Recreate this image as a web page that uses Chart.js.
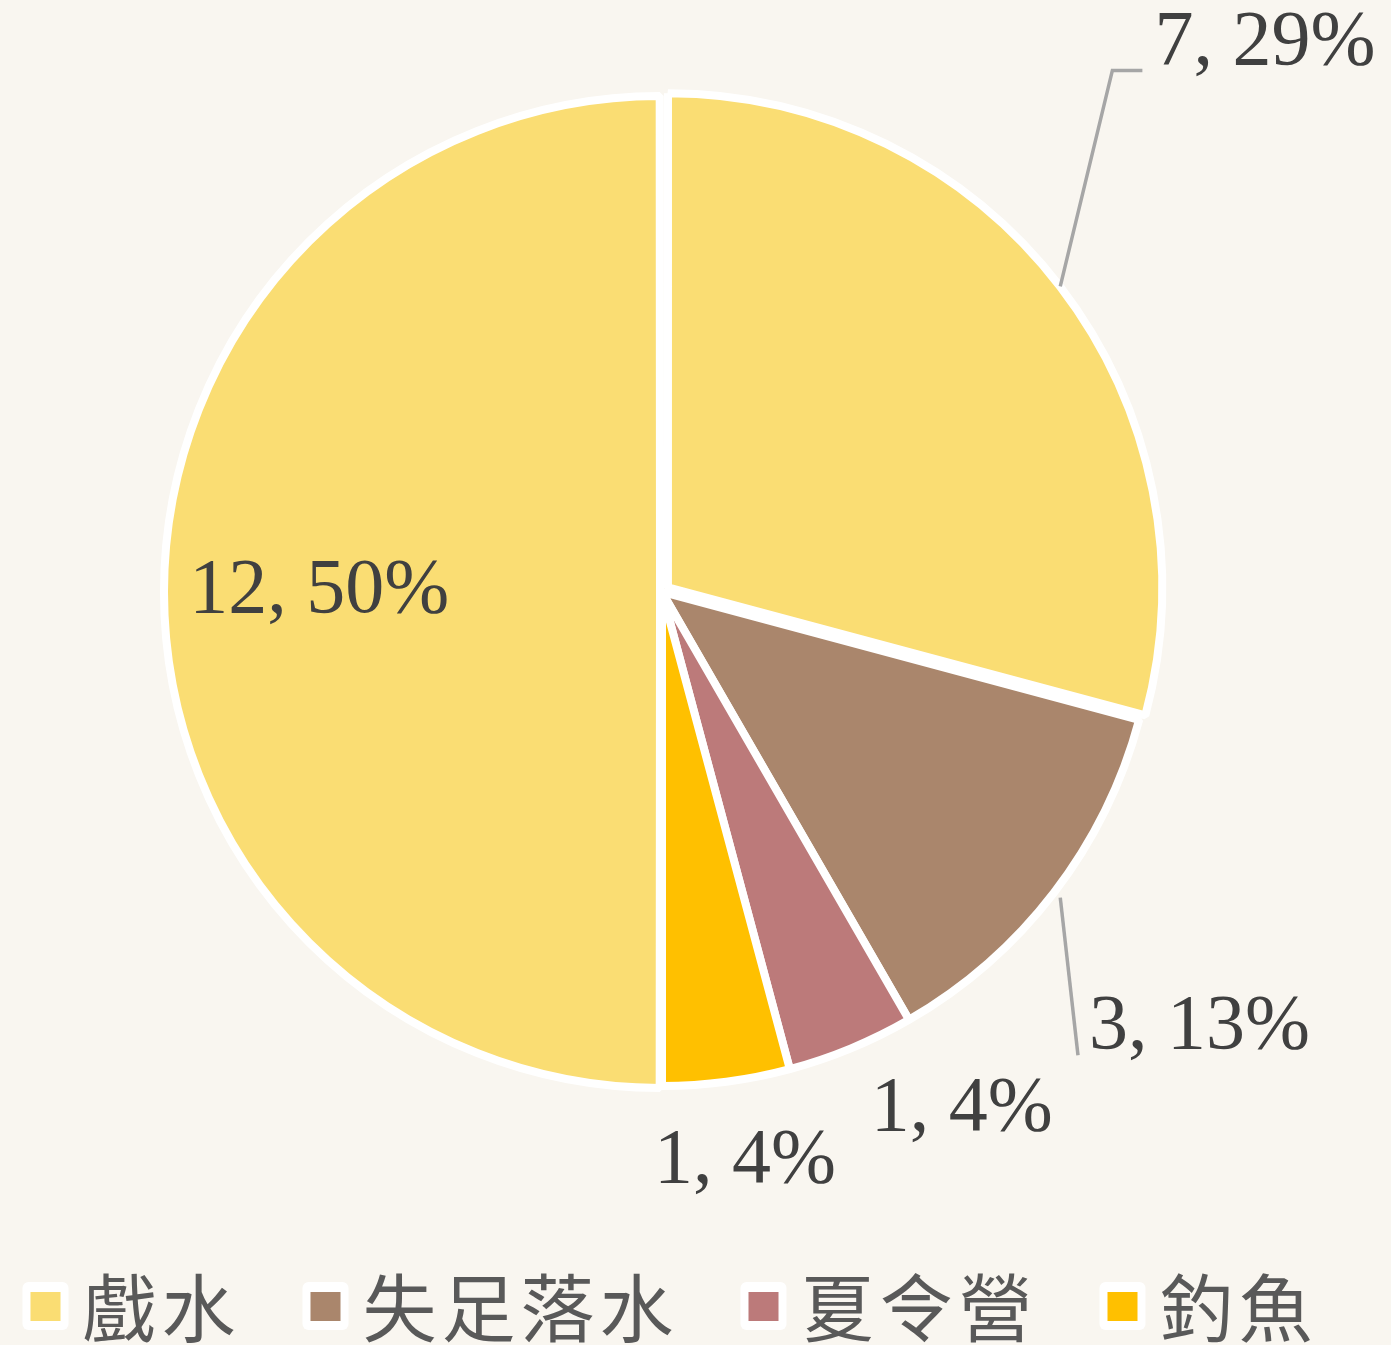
<!DOCTYPE html>
<html>
<head>
<meta charset="utf-8">
<script src="https://cdn.jsdelivr.net/npm/chart.js@4.4.0/dist/chart.umd.min.js"></script>
<style>
  html, body { margin: 0; padding: 0; background: #F9F6F0; }
  #wrap { width: 1391px; height: 1345px; }
</style>
</head>
<body>
<div id="wrap"><canvas id="pieChart" width="1391" height="1345"></canvas></div>
<script>
'use strict';

// ── Data ─────────────────────────────────────────────
const categories = ['戲水', '失足落水', '夏令營', '釣魚', ''];
const counts     = [7, 3, 1, 1, 12];
const colors     = ['#FADD73', '#AA866C', '#BC7A7A', '#FFC000', '#FADD73'];
const legendShown = 4; // last point has no legend entry

// label placement: radius factor and angle shift (deg) from slice mid angle
const labelRadius = [1.65, 1.40, 1.21, 1.165, 0.70];
const labelShift  = [-4.8, 1.5, -7.6, -0.8, 0];
const hasLeader   = [true, true, false, false, false];

const total = counts.reduce((a, b) => a + b, 0);

// ── Data labels + leader lines ───────────────────────
const pieLabels = {
    id: 'pieLabels',
    afterDatasetsDraw(chart) {
        const ctx = chart.ctx;
        const meta = chart.getDatasetMeta(0);
        ctx.save();
        ctx.font = '78px "Liberation Serif", "Times New Roman", serif';
        ctx.textAlign = 'center';
        ctx.textBaseline = 'middle';
        meta.data.forEach((arc, i) => {
            const p = arc.getProps(['x', 'y', 'startAngle', 'endAngle', 'outerRadius'], true);
            const mid = (p.startAngle + p.endAngle) / 2;
            const a = mid + labelShift[i] * Math.PI / 180;
            const r = p.outerRadius * labelRadius[i];
            const lx = p.x + Math.cos(a) * r + (i === 4 ? 3 : 0);
            const ly = p.y + Math.sin(a) * r;
            const text = `${counts[i]}, ${Math.round(counts[i] / total * 100)}%`;
            const w = ctx.measureText(text).width;

            if (hasLeader[i]) {
                const sx = p.x + Math.cos(mid) * (p.outerRadius + 8);
                const sy = p.y + Math.sin(mid) * (p.outerRadius + 8);
                const left = lx - w / 2;
                ctx.strokeStyle = '#A6A6A6';
                ctx.lineWidth = 3.5;
                ctx.beginPath();
                ctx.moveTo(sx, sy);
                if (ly < sy) {
                    ctx.lineTo(left - 42, ly + 27);
                    ctx.lineTo(left - 12, ly + 27);
                } else {
                    ctx.lineTo(left - 11, ly + 28);
                }
                ctx.stroke();
            }

            ctx.fillStyle = '#404040';
            ctx.fillText(text, lx, ly);
        });
        ctx.restore();
    }
};

// ── Legend (bottom, spaced CJK text) ─────────────────
const pieLegend = {
    id: 'pieLegend',
    afterDraw(chart) {
        const ctx = chart.ctx;
        ctx.save();
        ctx.font = '74px "Noto Sans CJK TC", sans-serif';
        ctx.letterSpacing = '5px';
        ctx.textBaseline = 'middle';
        ctx.textAlign = 'left';
        const boxW = 46, boxGap = 14, itemGap = 62;
        const items = categories.slice(0, legendShown).map((t, i) => ({
            text: t, color: colors[i], w: ctx.measureText(t).width
        }));
        const fullW = items.reduce((s, it) => s + boxW + boxGap + it.w, 0) + itemGap * (items.length - 1);
        let x = 670 - fullW / 2;
        const cy = 1306;
        items.forEach(it => {
            ctx.fillStyle = '#FFFFFF';
            ctx.beginPath();
            ctx.roundRect(x, cy - 24, boxW, 48, 6);
            ctx.fill();
            ctx.fillStyle = it.color;
            ctx.fillRect(x + 8, cy - 14, 30, 29);
            x += boxW + boxGap;
            ctx.fillStyle = '#595959';
            ctx.fillText(it.text, x, cy + 2);
            x += it.w + itemGap;
        });
        ctx.restore();
    }
};

new Chart(document.getElementById('pieChart'), {
    type: 'pie',
    data: {
        labels: categories,
        datasets: [{
            data: counts,
            backgroundColor: colors,
            borderColor: '#FFFFFF',
            borderWidth: 8,
            offset: [30, 0, 0, 0, 8],
            hoverOffset: 0
        }]
    },
    options: {
        responsive: false,
        animation: false,
        radius: 494,
        layout: { padding: { left: 150, right: 217, top: 82, bottom: 243 } },
        plugins: {
            legend: { display: false },
            tooltip: { enabled: false }
        }
    },
    plugins: [pieLabels, pieLegend]
});
</script>
</body>
</html>
